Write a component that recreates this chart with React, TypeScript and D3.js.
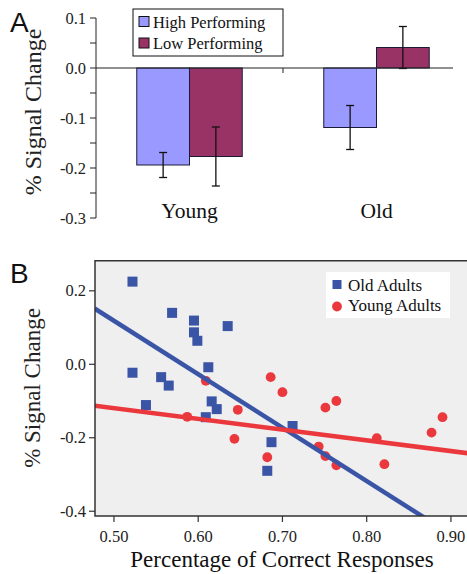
import React from "react";
import * as d3 from "d3";

// ---- panel A data ----
const groups = ["Young", "Old"];
const seriesNames = ["High Performing", "Low Performing"];
const highMeans = [-0.194, -0.119];
const highErr = [0.025, 0.044];
const lowMeans = [-0.177, 0.041];
const lowErr = [0.059, 0.042];
const yTicksA = [-0.3, -0.2, -0.1, 0.0, 0.1];
const yMinorA = [-0.25, -0.15, -0.05, 0.05];

// ---- panel B data ----
const oldX = [0.522, 0.522, 0.538, 0.569, 0.556, 0.565, 0.595, 0.595, 0.599, 0.635, 0.612, 0.616, 0.622, 0.609, 0.712, 0.687, 0.682];
const oldY = [0.225, -0.023, -0.111, 0.14, -0.035, -0.058, 0.119, 0.087, 0.064, 0.104, -0.008, -0.101, -0.122, -0.144, -0.168, -0.212, -0.29];
const youngX = [0.609, 0.587, 0.647, 0.643, 0.686, 0.7, 0.682, 0.751, 0.764, 0.743, 0.751, 0.764, 0.812, 0.821, 0.877, 0.89];
const youngY = [-0.045, -0.143, -0.124, -0.203, -0.035, -0.076, -0.253, -0.118, -0.1, -0.224, -0.25, -0.275, -0.201, -0.272, -0.186, -0.144];
// fit lines, end points
const oldFitX = [0.477, 0.93];
const oldFitY = [0.152, -0.507];
const youngFitX = [0.477, 0.93];
const youngFitY = [-0.113, -0.245];
const xTicksB = [0.5, 0.6, 0.7, 0.8, 0.9];
const yTicksB = [-0.4, -0.2, 0.0, 0.2];
const legendB = ["Old Adults", "Young Adults"];

const W = 467;
const H = 574;
const serif = "'Liberation Serif', 'Times New Roman', serif";
const sans = "'Liberation Sans', Arial, sans-serif";
const highColor = "#9999ff";
const lowColor = "#993366";
const blue = "#3b55a6";
const red = "#ea383d";

const fmt1 = (t: number) => d3.format(".1f")(t).replace("−", "-");

export default function App() {
  // ---------------- panel A scales ----------------
  const axA = 96;
  const yA = d3.scaleLinear().domain([-0.3, 0.1]).range([218, 18]);
  const xA = d3.scaleBand().domain(groups).range([96, 470]).paddingInner(0.436).paddingOuter(0.218);
  const xInner = d3.scaleBand().domain(seriesNames).range([0, xA.bandwidth()]);
  const barsA = groups.flatMap((g, i) => [
    { g, s: seriesNames[0], v: highMeans[i], e: highErr[i], c: highColor },
    { g, s: seriesNames[1], v: lowMeans[i], e: lowErr[i], c: lowColor },
  ]);

  // ---------------- panel B scales ----------------
  const left = 95, right = 480, top = 260.7, bottom = 516;
  const xB = d3.scaleLinear().domain([0.4775, 0.9345]).range([left, right]);
  const yB = d3.scaleLinear().domain([-0.413, 0.282]).range([bottom, top]);
  const line = d3.line<[number, number]>().x(d => xB(d[0])).y(d => yB(d[1]));
  const oldPts = oldX.map((x, i) => [x, oldY[i]] as [number, number]);
  const youngPts = youngX.map((x, i) => [x, youngY[i]] as [number, number]);

  return (
    <svg width={W} height={H} style={{ position: "absolute", left: 0, top: 0, background: "#fff" }}>
      <defs>
        <clipPath id="plotB">
          <rect x={left} y={top} width={right - left} height={bottom - top} />
        </clipPath>
      </defs>

      {/* ===== Panel A ===== */}
      <text x={10} y={32} fontFamily={sans} fontSize={28} fill="#111">A</text>
      <text transform={`translate(41,112) rotate(-90)`} textAnchor="middle" fontFamily={serif} fontSize={24} fill="#222">% Signal Change</text>

      {/* bars */}
      {barsA.map(b => {
        const x = (xA(b.g) as number) + (xInner(b.s) as number);
        const w = xInner.bandwidth();
        const cx = x + w / 2;
        return (
          <g key={b.g + b.s}>
            <rect x={x} y={Math.min(yA(b.v), yA(0))} width={w} height={Math.abs(yA(b.v) - yA(0))}
              fill={b.c} stroke="#1a1a3a" strokeWidth={1} />
            <line x1={cx} x2={cx} y1={yA(b.v - b.e)} y2={yA(b.v + b.e)} stroke="#111" strokeWidth={1.3} />
            <line x1={cx - 4} x2={cx + 4} y1={yA(b.v - b.e)} y2={yA(b.v - b.e)} stroke="#111" strokeWidth={1.3} />
            <line x1={cx - 4} x2={cx + 4} y1={yA(b.v + b.e)} y2={yA(b.v + b.e)} stroke="#111" strokeWidth={1.3} />
          </g>
        );
      })}

      {/* zero line + category separator */}
      <line x1={axA} x2={453} y1={yA(0)} y2={yA(0)} stroke="#222" strokeWidth={1} />
      <line x1={xA.step() + 96} x2={xA.step() + 96} y1={yA(0)} y2={yA(0) + 5} stroke="#222" strokeWidth={1} />

      {/* y axis A */}
      <line x1={axA} x2={axA} y1={yA(-0.3)} y2={yA(0.1)} stroke="#222" strokeWidth={1} />
      {yTicksA.concat(yMinorA).map(t => (
        <line key={"ta" + t} x1={axA - 6} x2={axA} y1={yA(t)} y2={yA(t)} stroke="#222" strokeWidth={1} />
      ))}
      {yTicksA.map(t => (
        <text key={"la" + t} x={86} y={yA(t) + 5.5} textAnchor="end" fontFamily={serif} fontSize={16.5} fill="#222">
          {fmt1(t)}
        </text>
      ))}
      {groups.map(g => (
        <text key={g} x={(xA(g) as number) + xA.bandwidth() / 2} y={218} textAnchor="middle" fontFamily={serif} fontSize={21.5} fill="#111">{g}</text>
      ))}

      {/* legend A */}
      <rect x={133} y={9} width={150} height={47} fill="#fff" stroke="#111" strokeWidth={1} />
      {seriesNames.map((s, i) => (
        <g key={s}>
          <rect x={139} y={16.5 + i * 21.5} width={10} height={10} fill={i === 0 ? highColor : lowColor} stroke="#111" strokeWidth={1} />
          <text x={153} y={27.5 + i * 21.5} fontFamily={serif} fontSize={16.5} fill="#111">{s}</text>
        </g>
      ))}

      {/* ===== Panel B ===== */}
      <text x={10} y={283} fontFamily={sans} fontSize={28} fill="#111">B</text>
      <rect x={left} y={top} width={right - left} height={bottom - top} fill="#efefef" />
      <g clipPath="url(#plotB)">
        {oldPts.map((p, i) => (
          <rect key={"o" + i} x={xB(p[0]) - 5} y={yB(p[1]) - 5} width={10} height={10} fill={blue} />
        ))}
        {youngPts.map((p, i) => (
          <circle key={"y" + i} cx={xB(p[0])} cy={yB(p[1])} r={4.9} fill={red} />
        ))}
        <path d={line(oldFitX.map((x, i) => [x, oldFitY[i]] as [number, number])) as string} stroke={blue} strokeWidth={4.5} fill="none" />
        <path d={line(youngFitX.map((x, i) => [x, youngFitY[i]] as [number, number])) as string} stroke={red} strokeWidth={4.5} fill="none" />
      </g>

      {/* legend B */}
      <rect x={326} y={272} width={124} height={46} fill="#fff" />
      <rect x={332.5} y={280} width={9} height={9} fill={blue} />
      <circle cx={337} cy={306.5} r={4.9} fill={red} />
      {legendB.map((s, i) => (
        <text key={s} x={348} y={290.7 + i * 20} fontFamily={serif} fontSize={17} fill="#111">{s}</text>
      ))}

      {/* frame */}
      <path d={`M${right},${top}H${left}V${bottom}H${right}`} fill="none" stroke="#333" strokeWidth={1.5} />

      {/* axes ticks B */}
      {yTicksB.map(t => (
        <g key={"tb" + t}>
          <line x1={left - 6} x2={left} y1={yB(t)} y2={yB(t)} stroke="#333" strokeWidth={1.2} />
          <text x={86} y={yB(t) + 5.5} textAnchor="end" fontFamily={serif} fontSize={16.5} fill="#222">
            {fmt1(t)}
          </text>
        </g>
      ))}
      {xTicksB.map(t => (
        <g key={"xb" + t}>
          <line x1={xB(t)} x2={xB(t)} y1={bottom} y2={bottom + 6} stroke="#333" strokeWidth={1.2} />
          <text x={xB(t)} y={541.5} textAnchor="middle" fontFamily={serif} fontSize={16.5} fill="#222">
            {d3.format(".2f")(t)}
          </text>
        </g>
      ))}
      <text x={282} y={567} textAnchor="middle" fontFamily={serif} fontSize={23} fill="#111">Percentage of Correct Responses</text>
      <text transform={`translate(40,388) rotate(-90)`} textAnchor="middle" fontFamily={serif} fontSize={23} fill="#222">% Signal Change</text>
    </svg>
  );
}
